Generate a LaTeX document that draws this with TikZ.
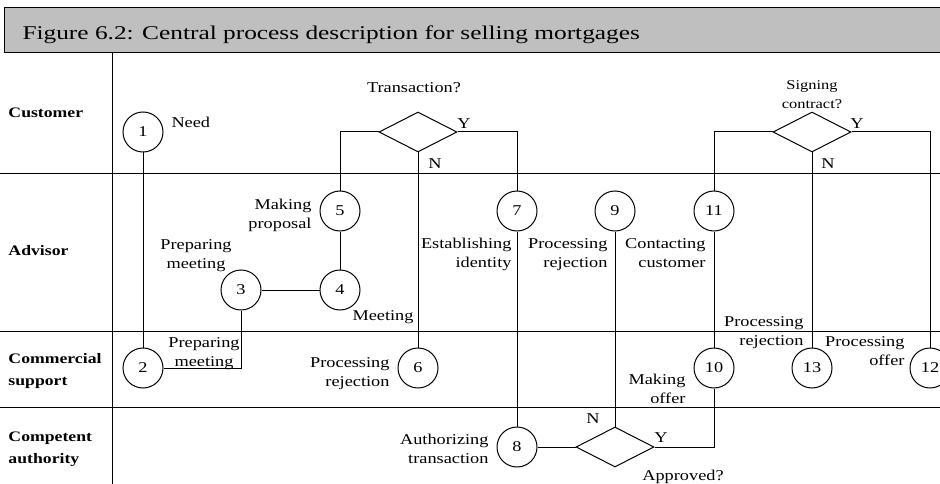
\documentclass[tikz,border=0pt]{standalone}
\usepackage{fontspec}
\setmainfont{Liberation Serif}[FakeStretch=1.22]
\newfontfamily\titlefont{Liberation Serif}[FakeStretch=1.3]
\usetikzlibrary{shapes.geometric}
\begin{document}
\begin{tikzpicture}[x=1pt,y=-1pt,
  every path/.style={line width=1pt},
  stepnode/.style={circle,draw,fill=white,minimum size=40pt,inner sep=0pt,font=\fontsize{15}{17}\selectfont},
  decision/.style={diamond,draw,fill=white,minimum width=78pt,minimum height=40pt,inner sep=0pt},
  lbl/.style={inner sep=0pt,font=\fontsize{15}{19}\selectfont},
  yn/.style={inner sep=0pt,font=\fontsize{15}{17}\selectfont},
  lane/.style={inner sep=0pt,anchor=base west,align=left,font=\fontsize{14.5}{22}\selectfont\bfseries}]
\useasboundingbox (0,0) rectangle (940,484);

% title bar
\draw[fill=black!25] (4,8) rectangle (946,53);
\node[inner sep=0pt,anchor=base west,font=\titlefont\fontsize{19.5}{24}\selectfont] (title) at (22,40)
  {Figure 6.2: Central process description for selling mortgages};

% swimlanes
\draw (112,53) -- (112,484);
\draw (0,174) -- (940,174);
\draw (0,331) -- (940,331);
\draw (0,407) -- (940,407);
\node[lane] (lcust) at (8,118) {Customer};
\node[lane] (ladv) at (8,255) {Advisor};
\node[lane] (lcom) at (8,385) {Commercial\\support};
\node[lane] (lauth) at (8,463) {Competent\\authority};

% steps
\node[stepnode] (s1) at (143,132) {1};
\node[stepnode] (s2) at (143,368) {2};
\node[stepnode] (s3) at (241,290) {3};
\node[stepnode] (s4) at (340,290) {4};
\node[stepnode] (s5) at (340,211) {5};
\node[stepnode] (s6) at (418,368) {6};
\node[stepnode] (s7) at (517,211) {7};
\node[stepnode] (s8) at (517,447) {8};
\node[stepnode] (s9) at (615,211) {9};
\node[stepnode] (s10) at (714,368) {10};
\node[stepnode] (s11) at (714,211) {11};
\node[stepnode] (s12) at (930,368) {12};
\node[stepnode] (s13) at (812,368) {13};

% decisions
\node[decision] (dtrans) at (418,132) {};
\node[decision] (dsign) at (812,132) {};
\node[decision] (dappr) at (615,447) {};

% connectors
\draw (s1) -- (s2);
\draw (s2.east) -| (s3.south);
\draw (s3) -- (s4);
\draw (s4) -- (s5);
\draw (s5.north) |- (dtrans.west);
\draw (dtrans.east) -| (s7.north);
\draw (dtrans.south) -- (s6.north);
\draw (s7) -- (s8);
\draw (s8) -- (dappr.west);
\draw (dappr.north) -- (s9.south);
\draw (dappr.east) -| (s10.south);
\draw (s10) -- (s11);
\draw (s11.north) |- (dsign.west);
\draw (dsign.east) -| (s12.north);
\draw (dsign.south) -- (s13.north);

% step labels (multi-line nodes sit on the baseline of their last line)
\node[lbl,anchor=base west] (t1) at (171,128) {Need};
\node[lbl,anchor=base] (tq1) at (414,93) {Transaction?};
\node[lbl,anchor=base,align=center,font=\fontsize{13.5}{19}\selectfont] (tq2) at (812,109) {Signing\\contract?};
\node[lbl,anchor=base] (tq3) at (683,480) {Approved?};
\node[lbl,anchor=base east,align=right] (t5) at (312,228) {Making\\proposal};
\node[lbl,anchor=base,align=center] (t3) at (196,268) {Preparing\\meeting};
\node[lbl,anchor=base east] (t4) at (414,320) {Meeting};
\node[lbl,anchor=base east,align=right] (t7) at (512,267) {Establishing\\identity};
\node[lbl,anchor=base east,align=right] (t9) at (608,267) {Processing\\rejection};
\node[lbl,anchor=base east,align=right] (t11) at (706,267) {Contacting\\customer};
\node[lbl,anchor=base east,align=right] (t13) at (804,345) {Processing\\rejection};
\node[lbl,anchor=base east,align=right] (t12) at (905,365) {Processing\\offer};
\node[lbl,anchor=base east,align=right] (t10) at (686,403) {Making\\offer};
\node[lbl,anchor=base,align=center] (t2) at (204,366) {Preparing\\meeting};
\node[lbl,anchor=base east,align=right] (t6) at (390,386) {Processing\\rejection};
\node[lbl,anchor=base east,align=right] (t8) at (489,463) {Authorizing\\transaction};

% branch labels
\node[yn,anchor=base] (y1) at (464,129) {Y};
\node[yn,anchor=base] (n1) at (435,168) {N};
\node[yn,anchor=base] (y2) at (857,129) {Y};
\node[yn,anchor=base] (n2) at (828,168) {N};
\node[yn,anchor=base] (n3) at (593,423) {N};
\node[yn,anchor=base] (y3) at (661,442) {Y};
\end{tikzpicture}
\end{document}
